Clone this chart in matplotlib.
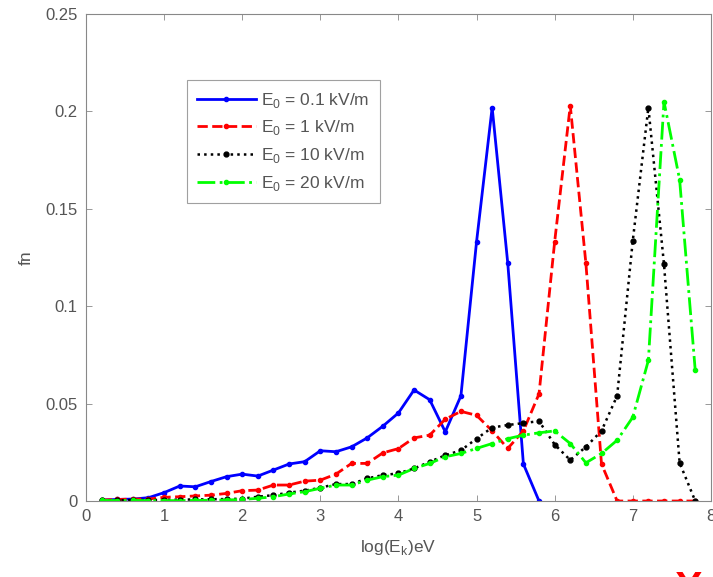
import matplotlib
matplotlib.use('Agg')
import matplotlib.pyplot as plt
import numpy as np

plt.rcParams['font.family'] = ['Liberation Sans', 'DejaVu Sans']

# energy grid, log(Ek) in steps of 0.2
x_blue = np.round(np.arange(0.2, 5.81, 0.2), 1)
x_all = np.round(np.arange(0.2, 7.81, 0.2), 1)

fn_01 = [0.0005, 0.0008, 0.001, 0.0017, 0.0043, 0.0077, 0.0073, 0.010, 0.0125, 0.0138,
         0.0128, 0.0159, 0.019, 0.0202, 0.0258, 0.0253, 0.0278, 0.0324, 0.0384, 0.0452,
         0.057, 0.052, 0.0355, 0.054, 0.133, 0.202, 0.122, 0.019, 0.0]

fn_1 = [0.0005, 0.0008, 0.001, 0.001, 0.0019, 0.0022, 0.0026, 0.003, 0.0039, 0.0053,
        0.0056, 0.0082, 0.0082, 0.0102, 0.0107, 0.0138, 0.0193, 0.0193, 0.0247, 0.0269,
        0.0324, 0.0338, 0.042, 0.046, 0.044, 0.036, 0.027, 0.036, 0.055, 0.133,
        0.203, 0.122, 0.019, 0.0, 0.0, 0.0, 0.0, 0.0, 0.0]

fn_10 = [0.0003, 0.0004, 0.0005, 0.0005, 0.0006, 0.0007, 0.0008, 0.0009, 0.001, 0.0012,
         0.0022, 0.003, 0.0043, 0.0053, 0.0068, 0.0087, 0.0087, 0.0116, 0.0133, 0.0142,
         0.0167, 0.0201, 0.0235, 0.026, 0.032, 0.0377, 0.039, 0.040, 0.041, 0.029,
         0.021, 0.0278, 0.036, 0.054, 0.1335, 0.202, 0.1215, 0.0196, 0.0]

fn_20 = [0.0003, 0.0002, 0.0003, 0.0002, 0.0002, 0.0002, 0.0003, 0.0004, 0.0005, 0.0008,
         0.0014, 0.0022, 0.0036, 0.0048, 0.0065, 0.0082, 0.0082, 0.0107, 0.0125, 0.0133,
         0.0167, 0.0193, 0.0227, 0.0244, 0.027, 0.0295, 0.032, 0.0338, 0.035, 0.036,
         0.0295, 0.0196, 0.0244, 0.0312, 0.043, 0.0722, 0.205, 0.165, 0.067]

labels = ['E$_{\\mathregular{0}}$ = 0.1 kV/m', 'E$_{\\mathregular{0}}$ = 1 kV/m',
          'E$_{\\mathregular{0}}$ = 10 kV/m', 'E$_{\\mathregular{0}}$ = 20 kV/m']

fig = plt.figure(figsize=(7.13, 5.77), dpi=100)
ax = fig.add_axes([0.1206, 0.1317, 0.8764, 0.844])

ax.plot(x_blue, fn_01, '-', color='#0000ff', lw=2, marker='.', ms=6, label=labels[0])
ax.plot(x_all, fn_1, '--', color='#ff0000', lw=2, marker='.', ms=6, label=labels[1])
ax.plot(x_all, fn_10, ':', color='#000000', lw=1.8, marker='.', ms=7, label=labels[2])
ax.plot(x_all, fn_20, '-.', color='#00ff00', lw=2, marker='.', ms=6, label=labels[3])

ax.set_xlim(0, 8)
ax.set_ylim(0, 0.25)
ax.set_xticks(range(0, 9))
ax.set_yticks([0, 0.05, 0.1, 0.15, 0.2, 0.25])
ax.set_yticklabels(['0', '0.05', '0.1', '0.15', '0.2', '0.25'])
ax.tick_params(direction='in', top=True, right=True, length=4, width=0.6,
               colors='#888888', labelcolor='#555555', labelsize=12, pad=6)
for s in ax.spines.values():
    s.set_color('#888888')
    s.set_linewidth(0.8)

ax.set_xlabel('log(E$_{\\mathregular{k}}$)eV', fontsize=12.5, color='#555555', labelpad=10)
ax.set_ylabel('fn', fontsize=12.5, color='#555555', labelpad=8)

leg = ax.legend(loc='upper left', bbox_to_anchor=(0.147, 0.882), fontsize=12.5,
                fancybox=False, edgecolor='#888888', handlelength=3.4,
                labelspacing=0.5, borderpad=0.6, handletextpad=0.3)
leg.get_frame().set_linewidth(0.8)
for t in leg.get_texts():
    t.set_color('#555555')

# corner mark at the bottom edge
fig.text(0.965, -0.058, 'X', color='red', fontsize=30, fontweight='bold',
         ha='center', va='bottom')

fig.savefig('out.png', dpi=100)
